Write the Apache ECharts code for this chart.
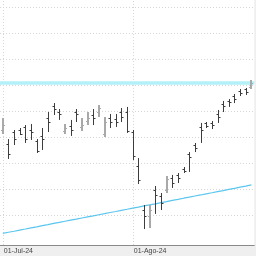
<!DOCTYPE html>
<html><head><meta charset="utf-8">
<script src="https://cdn.jsdelivr.net/npm/echarts@6/dist/echarts.min.js"></script>
<style>html,body{margin:0;padding:0;background:#efefef}#c{width:256px;height:256px}</style>
</head><body><div id="c"></div>
<script>
const dates = ['01-Jul-24','02-Jul-24','03-Jul-24','04-Jul-24','05-Jul-24','08-Jul-24','09-Jul-24','10-Jul-24','11-Jul-24','12-Jul-24',
'15-Jul-24','16-Jul-24','17-Jul-24','18-Jul-24','19-Jul-24','22-Jul-24','23-Jul-24','24-Jul-24','25-Jul-24','26-Jul-24',
'29-Jul-24','30-Jul-24','31-Jul-24',
'01-Ago-24','02-Ago-24','05-Ago-24','06-Ago-24','07-Ago-24','08-Ago-24','09-Ago-24','12-Ago-24','13-Ago-24','14-Ago-24',
'15-Ago-24','16-Ago-24','19-Ago-24','20-Ago-24','21-Ago-24','22-Ago-24','23-Ago-24','26-Ago-24','27-Ago-24','28-Ago-24',
'29-Ago-24','30-Ago-24'];
const opens  = [11060,10950,11040,11060,11080,11060,10970,11010,11150,11240,11200,11050,11090,11200,11080,11130,11170,11200,11030,11150,11140,11200,11200,
                11040,10780,10440,10400,10600,10550,10600,10690,10710,10760,10870,10940,11080,11110,11110,11180,11260,11280,11320,11360,11370,11390];
const highs  = [11150,10988,11058,11073,11096,11104,10988,11073,11196,11265,11219,11104,11135,11219,11150,11196,11219,11250,11158,11181,11181,11227,11235,
                11058,10842,10481,10481,10627,10573,10704,10712,10727,10773,10888,10958,11112,11119,11127,11212,11281,11296,11335,11373,11381,11442];
const lows   = [11027,10835,10942,11019,10958,10981,10881,10904,11042,11173,11135,11027,11012,11119,11050,11096,11096,11158,11004,11073,11081,11119,11035,
                10827,10642,10296,10304,10412,10442,10573,10612,10650,10727,10735,10888,10958,11073,11065,11112,11196,11235,11265,11319,11327,11373];
const closes = [11100,10870,10990,11030,10990,11040,10900,10990,11120,11220,11180,11070,11060,11180,11100,11150,11150,11230,11120,11120,11120,11160,11050,
                10860,10670,10400,10440,10560,10500,10680,10650,10690,10740,10850,10920,11060,11090,11100,11160,11240,11270,11300,11340,11350,11420];
const ma = [10262,10271,10279,10288,10296,10305,10313,10322,10330,10339,10347,10356,10364,10372,10381,10389,10397,10406,10414,10423,10431,10440,10448,
            10457,10465,10474,10482,10490,10499,10507,10516,10524,10533,10541,10550,10558,10567,10575,10584,10592,10601,10609,10618,10626,10635];
const resistance = 11425;
const gridValues = [10400,10600,10800,11000,11200,11400,11600,11800,12000];
const labelDates = ['01-Jul-24','01-Ago-24'];

const ohlc = dates.map((d,i)=>[i, opens[i], highs[i], lows[i], closes[i]]);
const chart = echarts.init(document.getElementById('c'), null, {renderer:'canvas'});
const dotted = {color:'#d6d6d6', width:1, type:[1,2]};
chart.setOption({
  animation:false,
  backgroundColor:'#efefef',
  grid:{left:0, right:1.75, top:0, bottom:11, show:true, backgroundColor:'#ffffff', borderWidth:0},
  xAxis:{type:'category', data:dates, boundaryGap:true, z:0,
    axisLine:{lineStyle:{color:'#8a8a8a', width:1}},
    axisTick:{alignWithLabel:true, length:5, lineStyle:{color:'#8a8a8a'}, interval:(i,v)=>labelDates.includes(v)},
    axisLabel:{interval:(i,v)=>labelDates.includes(v), align:'left', margin:3, fontSize:7, color:'#444',
      fontFamily:'Liberation Sans', padding:[0,0,0,1]},
    splitLine:{show:false}},
  yAxis:{type:'value', min:10173.1, max:12057.7, show:false, splitLine:{show:false}},
  series:[
    {type:'line', data:[], silent:true, z:1,
      markLine:{silent:true, z:1, symbol:'none', label:{show:false}, animation:false,
        lineStyle:dotted,
        data: gridValues.map(v=>({yAxis:v})).concat(labelDates.map(v=>({xAxis:v})))}},
    {type:'line', data:[], silent:true, z:2,
      markLine:{silent:true, z:2, symbol:'none', label:{show:false}, animation:false,
        lineStyle:{color:'#b2f1f8', width:3.5, type:'solid'},
        data:[{yAxis:resistance}]}},
    {type:'line', data:ma, symbol:'none', z:3, lineStyle:{color:'#5ac6ee', width:1.2}},
    {type:'custom', data:ohlc, z:10, encode:{x:0, y:[1,2,3,4]},
      renderItem:function(params, api){
        const i = api.value(0);
        const xc = Math.round(api.coord([i, 0])[0]);
        const yO = api.coord([i, api.value(1)])[1];
        const yH = api.coord([i, api.value(2)])[1];
        const yL = api.coord([i, api.value(3)])[1];
        const yC = api.coord([i, api.value(4)])[1];
        const up = api.value(4) >= api.value(1);
        const col = up ? '#a9a9a9' : '#3d3d3d';
        const w = up ? 2 : 1;
        const x = up ? xc : xc + 0.5;
        return {type:'group', children:[
          {type:'line', shape:{x1:x, y1:yH, x2:x, y2:yL}, style:{stroke:col, lineWidth:w, lineDash:null}},
          {type:'line', shape:{x1:x-2, y1:Math.round(yO)+0.5, x2:x, y2:Math.round(yO)+0.5}, style:{stroke:col, lineWidth:1}},
          {type:'line', shape:{x1:x, y1:Math.round(yC)+0.5, x2:x+2, y2:Math.round(yC)+0.5}, style:{stroke:col, lineWidth:1}}
        ]};
      }}
  ]
});
</script></body></html>
